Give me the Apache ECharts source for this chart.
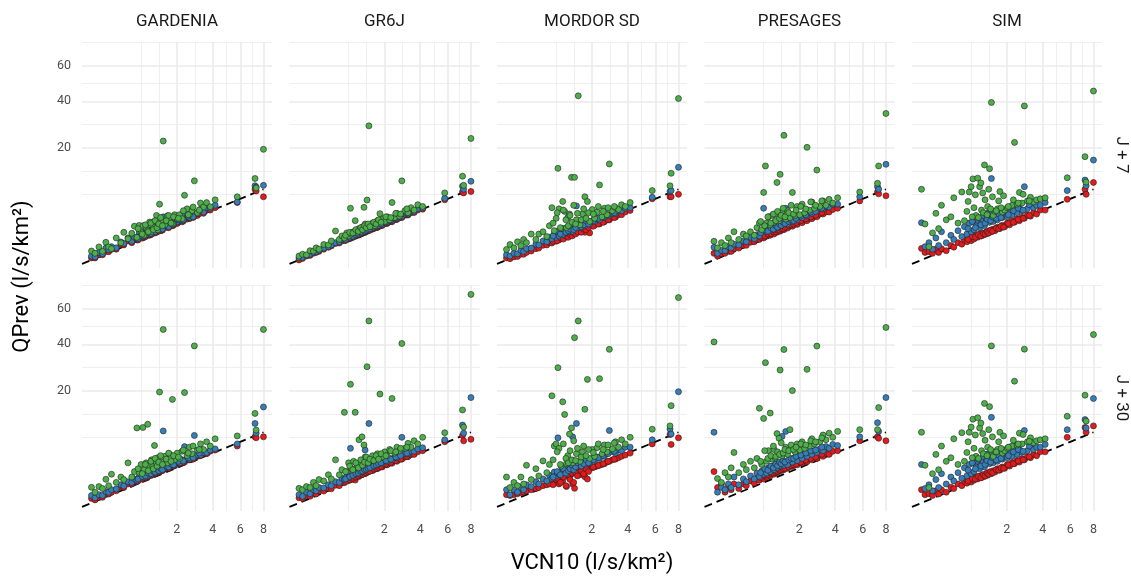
<!DOCTYPE html>
<html>
<head>
<meta charset="utf-8">
<script src="https://cdn.jsdelivr.net/npm/echarts@6/dist/echarts.min.js"></script>
<style>
  html, body { margin: 0; padding: 0; background: #ffffff; }
  #chart { width: 1131px; height: 578px; }
</style>
</head>
<body>
<div id="chart"></div>
<script>
// VCN10 of each station (l/s/km2), same stations in every panel
const vcn10 = [0.0004, 0.006, 0.02, 0.04, 0.065, 0.09, 0.12, 0.18, 0.25, 0.30,
  0.38, 0.46, 0.52, 0.58, 0.64, 0.69, 0.74, 0.77, 0.83, 0.88,
  0.94, 1.0, 1.04, 1.10, 1.17, 1.21, 1.28, 1.35, 1.42, 1.49,
  1.59, 1.69, 1.80, 1.90, 2.02, 2.13, 2.25, 2.37, 2.50, 2.62,
  2.76, 2.89, 3.06, 3.24, 3.42, 3.61, 3.84, 4.16, 5.76, 7.24,
  7.34, 8.0,
  0.61, 0.72, 0.81, 0.90, 0.98, 1.06, 1.12, 1.19, 1.25, 1.32,
  1.39, 1.54, 1.64, 1.74, 1.85, 2.07, 2.31, 2.56, 2.82, 3.17];

const models = ['GARDENIA', 'GR6J', 'MORDOR SD', 'PRESAGES', 'SIM'];
const horizons = ['J + 7', 'J + 30'];
const xBreaks = [2, 4, 6, 8];
const yBreaks = [20, 40, 60];

// QPrev, horizon J+7
const gardenia7Green = [0.14, 0.08, 0.29, 0.13, 0.52, 0.29, 0.22, 0.80, 0.49, 1.25,
  0.74, 1.16, 1.85, 0.84, 1.94, 1.25, 1.90, 1.00, 1.71, 1.39,
  2.33, 1.33, 1.88, 2.4, 3.2, 1.48, 5.0, 2.43, 22.5, 2.0,
  3.15, 2.36, 2.12, 3.3, 2.74, 3.3, 2.75, 6.7, 4.2, 3.3,
  3.9, 10.0, 3.6, 5.2, 4.5, 5.28, 4.55, 5.8, 6.4, 10.6,
  8.3, 19.5,
  1.6, 1.1, 2.0, 1.3, 2.2, 1.5, 2.5, 1.7, 2.1, 2.9,
  1.9, 2.5, 3.2, 2.2, 3.0, 2.8, 3.9, 3.3, 4.5, 4.0];
const gardenia7Blue = [0.03, 0.02, 0.1, 0.07, 0.24, 0.18, 0.3, 0.25, 0.54, 0.45,
  0.8, 0.58, 0.84, 0.77, 1.25, 0.97, 0.88, 1.25, 1.06, 1.48,
  1.1, 1.44, 1.3, 1.66, 1.35, 1.9, 1.66, 1.53, 3.0, 2.12,
  1.9, 2.23, 2.0, 2.61, 2.36, 2.75, 2.5, 3.3, 3.0, 2.9,
  3.59, 3.45, 3.48, 4.14, 3.7, 4.4, 4.31, 4.8, 5.4, 8.8,
  8.5, 8.9,
  0.75, 0.95, 1.0, 1.25, 1.15, 1.45, 1.3, 1.6, 1.45, 1.7,
  1.55, 1.95, 1.8, 2.2, 2.1, 2.6, 2.6, 3.1, 3.0, 3.8];
const gardenia7Red = [0.01, 0.01, 0.05, 0.05, 0.15, 0.12, 0.2, 0.2, 0.4, 0.38,
  0.6, 0.5, 0.7, 0.66, 1.0, 0.8, 0.8, 1.05, 0.95, 1.2,
  1.0, 1.25, 1.15, 1.4, 1.25, 1.6, 1.45, 1.42, 1.8, 1.85,
  1.75, 2.0, 1.9, 2.3, 2.15, 2.45, 2.35, 2.9, 2.7, 2.75,
  3.2, 3.1, 3.2, 3.7, 3.5, 4.0, 4.0, 4.4, 5.3, 8.0,
  7.6, 6.4,
  0.66, 0.8, 0.88, 1.05, 1.05, 1.25, 1.2, 1.4, 1.35, 1.5,
  1.45, 1.75, 1.7, 2.0, 1.95, 2.35, 2.45, 2.85, 2.9, 3.45];

const gr6j7Green = [0.03, 0.06, 0.05, 0.15, 0.14, 0.25, 0.2, 0.4, 0.38, 0.6,
  1.37, 0.7, 0.95, 0.8, 1.2, 0.95, 4.3, 1.1, 1.3, 2.5,
  1.25, 1.6, 1.3, 1.75, 4.45, 2.1, 5.76, 28.6, 1.8, 2.2,
  1.9, 2.5, 3.46, 2.7, 2.4, 3.0, 2.6, 5.3, 2.9, 3.5,
  3.1, 10.0, 3.9, 3.6, 4.4, 4.0, 4.9, 4.6, 7.2, 11.2,
  8.9, 23.5,
  1.0, 1.25, 1.2, 1.5, 1.35, 1.7, 1.5, 1.9, 1.7, 2.1,
  1.8, 2.3, 2.1, 2.6, 2.3, 3.0, 2.9, 3.5, 3.4, 4.2];
const gr6j7Blue = [0.01, 0.015, 0.04, 0.06, 0.1, 0.12, 0.16, 0.24, 0.3, 0.38,
  0.5, 0.55, 0.68, 0.7, 0.82, 0.8, 0.95, 0.88, 1.02, 1.0,
  1.12, 1.1, 1.22, 1.25, 1.38, 1.35, 1.5, 1.55, 1.68, 1.65,
  1.85, 1.85, 2.05, 2.05, 2.3, 2.3, 2.5, 2.5, 2.8, 2.8,
  3.05, 3.05, 3.4, 3.4, 3.75, 3.8, 4.2, 4.35, 6.1, 8.7,
  8.0, 9.9,
  0.7, 0.85, 0.92, 1.05, 1.1, 1.2, 1.28, 1.35, 1.42, 1.5,
  1.58, 1.75, 1.85, 1.95, 2.1, 2.35, 2.6, 2.9, 3.2, 3.55];
const gr6j7Red = [0.0004, 0.006, 0.03, 0.04, 0.08, 0.1, 0.13, 0.2, 0.27, 0.33,
  0.45, 0.48, 0.6, 0.63, 0.75, 0.72, 0.86, 0.8, 0.94, 0.92,
  1.03, 1.02, 1.12, 1.15, 1.28, 1.25, 1.4, 1.45, 1.56, 1.55,
  1.74, 1.72, 1.92, 1.93, 2.16, 2.16, 2.36, 2.36, 2.65, 2.65,
  2.9, 2.9, 3.22, 3.25, 3.58, 3.62, 4.0, 4.15, 5.8, 7.4,
  7.2, 7.5,
  0.63, 0.76, 0.85, 0.95, 1.02, 1.1, 1.17, 1.25, 1.3, 1.38,
  1.45, 1.6, 1.7, 1.8, 1.92, 2.15, 2.4, 2.65, 2.95, 3.3];

const mordor7Green = [0.19, 0.4, 0.25, 0.55, 0.35, 0.7, 0.5, 1.1, 0.7, 1.1,
  1.3, 0.9, 1.9, 4.4, 1.4, 2.8, 13.4, 4.2, 1.6, 5.5,
  3.8, 1.7, 2.9, 3.4, 10.9, 2.2, 10.9, 2.6, 42.8, 2.0,
  3.4, 6.4, 5.5, 2.4, 4.1, 2.8, 3.7, 9.0, 3.0, 4.3,
  3.3, 14.7, 3.9, 4.4, 4.1, 4.9, 4.6, 5.3, 7.7, 8.8,
  12.0, 41.4,
  2.2, 3.6, 1.7, 4.0, 2.6, 1.9, 3.2, 2.3, 4.8, 2.1,
  3.5, 2.6, 4.2, 2.8, 3.6, 3.4, 4.6, 3.8, 4.4, 4.6];
const mordor7Blue = [0.05, 0.03, 0.08, 0.07, 0.16, 0.13, 0.22, 0.24, 0.42, 0.38,
  0.6, 0.55, 0.85, 0.75, 1.1, 0.85, 1.25, 0.95, 1.3, 1.05,
  1.4, 1.25, 1.45, 1.3, 1.7, 1.35, 1.9, 4.7, 1.75, 1.7,
  2.2, 1.9, 2.4, 2.1, 2.5, 2.4, 2.75, 2.6, 3.0, 2.9,
  3.3, 3.2, 3.5, 3.5, 3.9, 3.9, 4.3, 4.4, 6.3, 7.5,
  7.7, 13.7,
  0.95, 1.35, 1.1, 1.6, 1.25, 1.4, 1.55, 1.9, 1.5, 1.7,
  2.2, 1.8, 2.0, 2.5, 2.1, 2.5, 2.8, 3.0, 3.3, 3.6];
const mordor7Red = [0.01, 0.005, 0.02, 0.025, 0.06, 0.06, 0.1, 0.14, 0.22, 0.24,
  0.36, 0.38, 0.5, 0.48, 0.65, 0.58, 0.75, 0.66, 0.82, 0.78,
  0.92, 0.86, 1.0, 0.96, 1.15, 1.05, 1.25, 1.2, 1.35, 1.3,
  1.5, 1.25, 1.65, 1.2, 1.9, 1.95, 2.15, 2.1, 2.4, 2.35,
  2.65, 2.6, 2.95, 2.95, 3.3, 3.3, 3.7, 3.95, 6.0, 6.4,
  6.4, 6.9,
  0.58, 0.62, 0.8, 0.72, 0.95, 0.85, 1.05, 0.95, 1.2, 1.1,
  1.3, 1.25, 1.55, 1.5, 1.7, 1.85, 2.1, 2.3, 2.6, 2.9];

const presages7Green = [0.58, 0.25, 0.5, 0.35, 0.8, 0.5, 1.3, 0.7, 1.1, 0.95,
  1.3, 1.0, 1.7, 2.2, 1.5, 7.3, 14.1, 2.2, 3.0, 2.0,
  3.2, 2.3, 3.4, 9.6, 2.5, 11.7, 3.6, 24.7, 2.7, 3.9,
  2.9, 7.3, 3.2, 4.6, 3.3, 5.0, 3.6, 20.2, 4.0, 5.4,
  4.3, 12.9, 4.6, 5.6, 4.8, 5.9, 5.2, 6.2, 7.4, 9.4,
  14.1, 34.1,
  2.4, 1.9, 3.0, 2.2, 3.4, 2.5, 3.8, 2.8, 3.2, 4.3,
  3.0, 3.6, 4.8, 3.4, 4.0, 4.6, 4.2, 5.4, 4.8, 5.6];
const presages7Blue = [0.27, 0.08, 0.16, 0.15, 0.3, 0.25, 0.42, 0.38, 0.6, 0.55,
  0.85, 0.75, 1.05, 0.95, 1.3, 4.3, 1.5, 1.3, 1.6, 1.45,
  1.75, 1.55, 1.85, 1.7, 2.05, 1.9, 2.15, 2.1, 4.3, 2.1,
  2.6, 2.4, 2.8, 2.6, 3.1, 2.9, 3.4, 3.2, 3.7, 3.5,
  4.0, 3.9, 4.3, 4.2, 4.6, 4.5, 5.0, 5.0, 6.4, 8.6,
  8.0, 14.6,
  1.2, 1.5, 1.35, 1.7, 1.55, 1.9, 1.75, 2.1, 1.95, 2.3,
  2.15, 2.4, 2.6, 2.5, 2.8, 3.1, 3.3, 3.7, 3.8, 4.3];
const presages7Red = [0.08, 0.03, 0.07, 0.08, 0.14, 0.13, 0.22, 0.24, 0.36, 0.36,
  0.52, 0.55, 0.68, 0.7, 0.85, 0.8, 0.95, 0.92, 1.05, 1.0,
  1.18, 1.1, 1.3, 1.25, 1.42, 1.35, 1.55, 1.5, 1.7, 1.65,
  1.9, 1.85, 2.1, 2.05, 2.35, 2.25, 2.6, 2.5, 2.8, 2.75,
  3.1, 3.0, 3.4, 3.4, 3.7, 3.7, 4.1, 4.3, 5.6, 7.4,
  7.0, 6.6,
  0.85, 0.95, 1.1, 1.15, 1.3, 1.3, 1.45, 1.45, 1.6, 1.6,
  1.75, 1.9, 2.0, 2.1, 2.25, 2.5, 2.75, 3.0, 3.25, 3.6];

const sim7Green = [8.0, 2.1, 0.3, 1.2, 3.5, 1.6, 4.8, 2.6, 3.0, 6.2,
  2.2, 7.4, 2.5, 3.8, 7.4, 8.6, 10.5, 4.4, 3.2, 10.7,
  8.6, 4.0, 7.2, 14.4, 3.4, 4.6, 13.3, 39.4, 3.2, 3.8,
  4.2, 7.5, 3.7, 4.0, 4.4, 4.5, 4.8, 22.0, 5.0, 7.3,
  5.2, 37.7, 5.6, 6.3, 5.4, 5.8, 6.0, 6.2, 10.8, 17.0,
  9.7, 45.3,
  5.5, 3.0, 6.8, 2.9, 9.5, 3.6, 5.8, 3.3, 8.0, 4.2,
  6.4, 3.9, 5.6, 4.4, 6.6, 4.6, 5.8, 5.2, 6.9, 5.6];
const sim7Blue = [2.25, 0.3, 0.5, 0.2, 0.8, 0.35, 1.3, 0.5, 1.0, 0.7,
  1.4, 0.9, 1.8, 1.1, 2.2, 1.3, 2.4, 1.5, 1.9, 2.6,
  1.7, 2.2, 2.6, 1.9, 2.7, 3.4, 2.3, 10.6, 2.4, 2.9,
  2.6, 3.2, 2.9, 3.5, 3.0, 3.7, 3.3, 4.2, 3.6, 4.4,
  3.9, 8.6, 4.2, 5.0, 4.4, 4.8, 4.8, 5.3, 7.7, 10.2,
  8.8, 15.9,
  1.6, 2.4, 1.7, 2.9, 2.0, 3.2, 2.2, 2.7, 3.6, 2.5,
  3.0, 2.8, 3.4, 2.9, 3.8, 3.3, 3.9, 4.3, 4.0, 4.9];
const sim7Red = [0.23, 0.1, 0.12, 0.08, 0.2, 0.1, 0.22, 0.15, 0.35, 0.28,
  0.5, 0.42, 0.65, 0.55, 0.8, 0.62, 0.95, 0.72, 1.0, 0.85,
  1.1, 0.95, 1.2, 1.05, 1.3, 1.15, 1.4, 1.3, 1.55, 1.4,
  1.75, 1.6, 1.95, 1.8, 2.2, 2.0, 2.45, 2.3, 2.7, 2.5,
  2.95, 2.8, 3.25, 3.1, 3.6, 3.4, 4.0, 4.0, 5.9, 8.0,
  6.9, 9.6,
  0.7, 0.9, 0.85, 1.05, 0.95, 1.15, 1.1, 1.3, 1.2, 1.45,
  1.35, 1.65, 1.6, 1.85, 1.75, 2.15, 2.3, 2.65, 2.8, 3.2];

// QPrev, horizon J+30
const gardenia30Green = [0.41, 0.2, 0.45, 0.35, 0.92, 0.5, 1.35, 0.7, 1.1, 0.9,
  2.6, 1.1, 1.6, 9.0, 1.5, 2.4, 9.1, 1.8, 2.6, 9.9,
  2.2, 3.0, 2.2, 5.3, 2.6, 3.3, 19.6, 2.7, 47.8, 3.5,
  2.6, 3.8, 17.1, 3.0, 4.0, 3.2, 4.3, 19.4, 3.6, 5.0,
  3.9, 39.2, 4.5, 5.6, 4.6, 6.0, 5.2, 6.6, 7.2, 12.8,
  8.5, 47.8,
  1.9, 1.4, 2.4, 1.7, 2.8, 1.9, 3.2, 2.2, 2.7, 3.6,
  2.4, 3.1, 4.0, 2.8, 3.6, 3.4, 4.5, 4.0, 5.2, 4.6];
const gardenia30Blue = [0.1, 0.05, 0.12, 0.1, 0.22, 0.2, 0.3, 0.33, 0.55, 0.48,
  0.75, 0.7, 0.95, 0.85, 1.15, 1.05, 1.25, 1.1, 1.35, 1.2,
  1.5, 1.35, 1.6, 1.5, 1.8, 1.6, 1.9, 1.8, 8.3, 2.0,
  2.3, 2.15, 2.5, 2.35, 2.7, 2.6, 3.0, 5.1, 3.2, 3.1,
  3.5, 7.3, 3.7, 3.7, 4.1, 4.1, 4.5, 4.7, 5.6, 10.1,
  7.8, 14.7,
  0.95, 1.15, 1.2, 1.45, 1.4, 1.65, 1.55, 1.85, 1.7, 1.95,
  1.8, 2.2, 2.1, 2.45, 2.35, 2.8, 2.85, 3.3, 3.3, 4.0];
const gardenia30Red = [0.04, 0.02, 0.06, 0.06, 0.14, 0.14, 0.2, 0.25, 0.42, 0.4,
  0.6, 0.6, 0.8, 0.75, 1.0, 0.95, 1.1, 1.0, 1.2, 1.1,
  1.35, 1.25, 1.45, 1.4, 1.65, 1.5, 1.75, 1.7, 1.8, 1.9,
  2.1, 2.05, 2.3, 2.25, 2.5, 2.5, 2.8, 2.7, 3.0, 3.0,
  3.3, 3.3, 3.5, 3.6, 3.9, 3.9, 4.3, 4.5, 5.2, 7.0,
  6.8, 7.0,
  0.8, 0.95, 1.05, 1.2, 1.25, 1.4, 1.4, 1.6, 1.55, 1.7,
  1.7, 1.95, 1.95, 2.2, 2.2, 2.55, 2.65, 3.0, 3.1, 3.6];

const gr6j30Green = [0.36, 0.3, 0.45, 0.4, 0.7, 0.5, 0.9, 0.8, 1.3, 0.95,
  3.0, 1.3, 1.8, 13.1, 1.6, 2.6, 22.4, 1.9, 2.8, 13.1,
  2.3, 6.4, 2.5, 7.0, 5.4, 3.4, 29.5, 52.6, 2.9, 3.6,
  3.1, 3.9, 18.9, 3.4, 4.2, 3.6, 4.6, 17.4, 4.0, 5.0,
  4.4, 40.4, 4.8, 5.7, 5.0, 6.2, 5.6, 6.9, 7.9, 13.8,
  9.2, 69.0,
  1.6, 2.2, 1.8, 2.6, 2.0, 3.0, 2.3, 2.7, 3.4, 2.6,
  3.1, 2.9, 3.6, 3.1, 3.9, 3.6, 4.4, 4.2, 4.8, 5.0];
const gr6j30Blue = [0.12, 0.08, 0.2, 0.15, 0.3, 0.25, 0.4, 0.38, 0.55, 0.5,
  0.75, 0.7, 1.0, 0.9, 1.2, 1.05, 4.8, 1.2, 1.5, 1.35,
  1.7, 1.5, 1.8, 1.65, 2.0, 4.5, 2.2, 10.1, 2.3, 2.1,
  2.5, 2.35, 2.7, 2.55, 2.9, 2.8, 3.2, 3.0, 3.4, 3.3,
  3.7, 6.9, 3.9, 3.9, 4.3, 4.3, 4.7, 4.9, 6.4, 9.7,
  7.8, 17.7,
  0.95, 1.15, 1.25, 1.4, 1.45, 1.6, 1.65, 1.8, 1.85, 1.95,
  2.05, 2.25, 2.35, 2.5, 2.6, 2.9, 3.1, 3.4, 3.6, 4.0];
const gr6j30Red = [0.05, 0.04, 0.1, 0.08, 0.16, 0.14, 0.24, 0.24, 0.36, 0.34,
  0.52, 0.5, 0.72, 0.68, 0.9, 0.82, 1.0, 0.9, 1.12, 0.86,
  1.3, 1.15, 1.4, 1.3, 1.55, 1.4, 1.7, 1.6, 1.8, 1.7,
  2.0, 1.9, 2.2, 2.1, 2.4, 2.35, 2.65, 2.55, 2.9, 2.8,
  3.15, 3.1, 3.4, 3.45, 3.8, 3.8, 4.2, 4.4, 6.0, 7.3,
  6.2, 6.5,
  0.75, 0.9, 1.0, 1.1, 1.2, 1.3, 1.35, 1.45, 1.5, 1.6,
  1.65, 1.85, 1.95, 2.05, 2.15, 2.45, 2.65, 2.9, 3.1, 3.5];

const mordor30Green = [1.1, 0.4, 0.7, 0.5, 1.1, 0.6, 2.3, 0.9, 1.9, 1.2,
  2.86, 1.5, 2.4, 18.3, 5.2, 5.6, 29.1, 4.8, 2.2, 16.3,
  12.5, 2.5, 3.6, 7.6, 9.0, 2.6, 43.4, 3.9, 52.6, 2.8,
  4.2, 14.0, 24.3, 3.2, 4.6, 3.5, 4.9, 24.6, 3.9, 5.4,
  4.2, 37.5, 4.7, 6.0, 5.0, 6.4, 5.6, 6.9, 8.7, 9.5,
  15.1, 66.9,
  3.0, 4.2, 2.4, 5.6, 3.2, 2.6, 4.4, 3.0, 6.2, 2.9,
  4.8, 3.4, 5.2, 3.6, 4.6, 4.1, 5.6, 4.6, 5.4, 5.8];
const mordor30Blue = [0.3, 0.12, 0.3, 0.2, 0.4, 0.3, 0.55, 0.45, 0.75, 0.6,
  0.95, 0.8, 1.25, 1.0, 1.55, 1.2, 6.8, 1.35, 1.6, 1.5,
  1.8, 1.55, 2.0, 1.75, 2.2, 7.0, 2.4, 10.1, 2.5, 2.2,
  2.7, 2.4, 2.9, 2.6, 3.2, 2.9, 3.4, 3.2, 3.7, 3.5,
  4.0, 8.4, 4.2, 4.0, 4.6, 4.4, 5.0, 5.0, 6.4, 8.7,
  7.6, 19.7,
  1.1, 1.6, 1.3, 1.9, 1.45, 1.7, 1.9, 2.3, 1.8, 2.1,
  2.6, 2.2, 2.5, 3.0, 2.6, 3.0, 3.3, 3.6, 3.9, 4.3];
const mordor30Red = [0.12, 0.1, 0.12, 0.15, 0.18, 0.2, 0.25, 0.3, 0.35, 0.4,
  0.5, 0.55, 0.6, 1.2, 0.7, 0.9, 1.1, 0.6, 1.0, 0.8,
  1.2, 0.45, 1.3, 1.0, 1.4, 0.6, 0.36, 1.5, 1.6, 1.3,
  1.7, 1.12, 0.94, 1.9, 2.0, 2.1, 2.2, 2.3, 2.4, 2.5,
  2.7, 2.8, 3.0, 3.1, 3.3, 3.5, 3.7, 4.0, 5.6, 7.5,
  5.5, 6.8,
  0.55, 1.0, 0.7, 1.1, 0.5, 1.3, 0.9, 1.45, 0.7, 1.5,
  1.2, 1.7, 1.4, 1.9, 1.6, 2.1, 2.3, 2.5, 2.8, 3.1];

const presages30Green = [41.2, 0.98, 0.7, 1.5, 1.1, 2.0, 4.1, 1.5, 2.4, 1.8,
  2.8, 2.0, 3.2, 14.3, 2.4, 11.4, 31.3, 2.8, 4.4, 12.9,
  3.1, 4.6, 3.3, 7.7, 6.7, 28.1, 3.6, 37.4, 5.0, 3.8,
  8.6, 20.1, 4.2, 5.6, 4.5, 6.0, 4.8, 28.4, 5.2, 6.6,
  5.6, 39.1, 6.0, 7.4, 6.4, 7.8, 6.9, 8.2, 8.6, 8.6,
  14.5, 48.9,
  2.8, 4.4, 3.2, 3.6, 5.2, 3.5, 4.2, 3.8, 5.8, 4.0,
  4.6, 4.4, 5.4, 4.6, 5.0, 5.6, 5.4, 6.2, 6.0, 6.8];
const presages30Blue = [8.0, 0.2, 0.4, 0.3, 0.6, 0.4, 1.1, 0.55, 0.95, 0.75,
  1.2, 0.95, 1.45, 1.15, 1.65, 1.35, 1.85, 1.45, 2.0, 1.6,
  2.2, 1.8, 2.35, 2.0, 2.6, 2.2, 7.1, 2.3, 8.2, 2.4,
  3.1, 2.7, 3.3, 2.9, 3.6, 3.2, 3.9, 3.5, 4.1, 3.8,
  4.4, 4.1, 4.7, 4.4, 5.1, 4.8, 5.5, 5.3, 7.0, 10.3,
  8.2, 17.7,
  1.5, 1.9, 1.75, 2.2, 2.0, 2.45, 2.25, 2.7, 2.5, 2.9,
  2.7, 3.0, 3.2, 3.2, 3.5, 3.7, 4.0, 4.4, 4.5, 5.0];
const presages30Red = [1.6, 0.4, 0.6, 0.2, 0.45, 0.3, 0.6, 0.35, 0.6, 0.5,
  0.8, 0.65, 1.0, 0.85, 1.2, 0.95, 1.35, 1.1, 1.5, 1.2,
  1.6, 1.35, 1.75, 1.5, 1.9, 1.65, 2.05, 1.8, 2.2, 1.95,
  2.4, 2.15, 2.6, 2.35, 2.8, 2.55, 3.0, 2.75, 3.2, 3.0,
  3.45, 3.2, 3.7, 3.5, 4.0, 3.8, 4.3, 4.4, 6.2, 7.0,
  6.7, 6.2,
  1.05, 1.25, 1.3, 1.45, 1.5, 1.6, 1.65, 1.75, 1.8, 1.9,
  1.95, 2.1, 2.25, 2.35, 2.45, 2.7, 2.95, 3.2, 3.4, 3.8];

const sim30Green = [8.0, 2.3, 0.4, 1.4, 3.8, 1.8, 5.2, 2.8, 3.3, 6.6,
  2.4, 7.9, 2.8, 4.1, 8.0, 9.2, 11.2, 4.8, 3.5, 11.6,
  9.0, 4.4, 7.7, 15.8, 3.8, 5.0, 14.8, 39.2, 3.5, 4.2,
  4.6, 8.0, 4.0, 4.4, 4.8, 5.0, 5.2, 23.6, 5.4, 7.8,
  5.6, 37.6, 6.0, 6.8, 5.8, 6.2, 6.4, 6.6, 12.0, 18.5,
  10.7, 45.0,
  6.0, 3.3, 7.4, 3.2, 10.2, 3.9, 6.3, 3.6, 8.6, 4.6,
  7.0, 4.2, 6.0, 4.8, 7.2, 5.0, 6.3, 5.6, 7.5, 6.1];
const sim30Blue = [2.4, 0.35, 0.55, 0.25, 0.9, 0.4, 1.4, 0.6, 1.1, 0.8,
  1.5, 1.0, 2.0, 1.2, 2.4, 1.4, 2.6, 1.6, 2.1, 2.8,
  1.9, 2.4, 2.8, 2.1, 2.9, 3.6, 2.5, 11.7, 2.6, 3.1,
  2.8, 3.4, 3.1, 3.7, 3.3, 3.9, 3.5, 4.4, 3.8, 4.6,
  4.1, 8.4, 4.4, 5.2, 4.6, 5.0, 5.0, 5.5, 8.6, 11.1,
  9.0, 17.4,
  1.75, 2.6, 1.9, 3.1, 2.2, 3.5, 2.4, 2.9, 3.9, 2.7,
  3.3, 3.0, 3.7, 3.2, 4.1, 3.6, 4.2, 4.6, 4.3, 5.2];
const sim30Red = [0.3, 0.12, 0.15, 0.1, 0.25, 0.14, 0.3, 0.2, 0.42, 0.35,
  0.6, 0.5, 0.75, 0.65, 0.9, 0.72, 1.05, 0.85, 1.1, 0.95,
  1.2, 1.05, 1.3, 1.15, 1.42, 1.25, 1.55, 1.4, 1.7, 1.55,
  1.9, 1.75, 2.1, 1.95, 2.4, 2.2, 2.65, 2.5, 2.9, 2.7,
  3.15, 3.0, 3.45, 3.3, 3.8, 3.6, 4.2, 4.2, 6.9, 9.1,
  8.0, 9.5,
  0.8, 1.0, 0.95, 1.15, 1.05, 1.3, 1.2, 1.45, 1.35, 1.6,
  1.5, 1.8, 1.75, 2.0, 1.95, 2.35, 2.5, 2.85, 3.0, 3.45];

// rows = horizons, columns = models ; each cell [red, blue, green]
const panelData = [
  [[gardenia7Red, gardenia7Blue, gardenia7Green], [gr6j7Red, gr6j7Blue, gr6j7Green],
   [mordor7Red, mordor7Blue, mordor7Green], [presages7Red, presages7Blue, presages7Green],
   [sim7Red, sim7Blue, sim7Green]],
  [[gardenia30Red, gardenia30Blue, gardenia30Green], [gr6j30Red, gr6j30Blue, gr6j30Green],
   [mordor30Red, mordor30Blue, mordor30Green], [presages30Red, presages30Blue, presages30Green],
   [sim30Red, sim30Blue, sim30Green]]
];
const pointColors = ['#E41A1C', '#377EB8', '#4DAF4A'];

const FONT = 'Roboto, "DejaVu Sans", sans-serif';
// both axes use a square-root scale: positions are sqrt(value)
const X_MIN = -0.135, X_MAX = 2.968;
const Y_MIN = -0.30, Y_MAX = 8.68;
const PANEL_W = 190, PANEL_H = 226;
const lefts = [82, 289.5, 497, 704.5, 912];
const tops = [42, 285];

// same rule as ggplot minor breaks (midpoints in transformed space)
function minorBreaks(major, lo, hi) {
  const b = major.slice();
  const d = b[1] - b[0];
  if (lo < b[0]) b.unshift(b[0] - d);
  if (hi > b[b.length - 1]) b.push(b[b.length - 1] + d);
  const out = [];
  for (let i = 0; i < b.length - 1; i++) out.push((b[i] + b[i + 1]) / 2);
  b.forEach(v => { if (!major.includes(v)) out.push(v); });
  return out.filter(v => v >= lo && v <= hi);
}

const xMajor = xBreaks.map(Math.sqrt);
const yMajor = yBreaks.map(Math.sqrt);
const xMinor = minorBreaks(xMajor, X_MIN, X_MAX);
const yMinor = minorBreaks(yMajor, Y_MIN, Y_MAX);
const sqLabel = v => String(Math.round(v * v));

const grid = [], xAxis = [], yAxis = [], series = [], graphic = [];
const xTop = Math.sqrt(Math.max.apply(null, vcn10));

for (let r = 0; r < 2; r++) {
  for (let c = 0; c < 5; c++) {
    const g = r * 5 + c;
    grid.push({ left: lefts[c], top: tops[r], width: PANEL_W, height: PANEL_H, outerBoundsMode: 'none', containLabel: false });
    [[xMajor, 1.6, r === 1], [xMinor, 0.8, false]].forEach(([vals, w, lab]) => {
      xAxis.push({
        gridIndex: g, type: 'value', min: X_MIN, max: X_MAX,
        axisLine: { show: false },
        axisTick: { show: false, customValues: vals },
        splitLine: { show: true, lineStyle: { color: '#ebebeb', width: w } },
        axisLabel: { show: lab, customValues: vals, formatter: sqLabel, color: '#4d4d4d', fontSize: 12.5, fontFamily: FONT, margin: 12 }
      });
    });
    [[yMajor, 1.6, c === 0], [yMinor, 0.8, false]].forEach(([vals, w, lab]) => {
      yAxis.push({
        gridIndex: g, type: 'value', min: Y_MIN, max: Y_MAX,
        axisLine: { show: false },
        axisTick: { show: false, customValues: vals },
        splitLine: { show: true, lineStyle: { color: '#ebebeb', width: w } },
        axisLabel: { show: lab, customValues: vals, formatter: sqLabel, color: '#4d4d4d', fontSize: 12.5, fontFamily: FONT, margin: 11 }
      });
    });
    // 1:1 line
    series.push({
      type: 'line', xAxisIndex: 2 * g, yAxisIndex: 2 * g, silent: true,
      symbol: 'none', z: 3,
      data: [[X_MIN, X_MIN], [xTop, xTop]],
      lineStyle: { color: '#000', width: 1.8, type: [8, 5] }
    });
    panelData[r][c].forEach((vals, k) => {
      series.push({
        type: 'scatter', xAxisIndex: 2 * g, yAxisIndex: 2 * g, z: 4 + k,
        symbol: 'circle', symbolSize: 6,
        itemStyle: { color: pointColors[k], borderColor: '#222', borderWidth: 0.6, opacity: 1 },
        data: vcn10.map((x, i) => [Math.sqrt(x), Math.sqrt(vals[i])])
      });
    });
  }
}

models.forEach((m, c) => {
  graphic.push({ type: 'text', x: lefts[c] + PANEL_W / 2, y: 22,
    style: { text: m, align: 'center', verticalAlign: 'middle', fontSize: 17, fontFamily: FONT, fill: '#1a1a1a' } });
});
horizons.forEach((h, r) => {
  graphic.push({ type: 'text', x: 1121, y: tops[r] + PANEL_H / 2, rotation: -Math.PI / 2,
    style: { text: h, align: 'center', verticalAlign: 'middle', fontSize: 17, fontFamily: FONT, fill: '#1a1a1a' } });
});
graphic.push({ type: 'text', x: (lefts[0] + lefts[4] + PANEL_W) / 2, y: 563,
  style: { text: 'VCN10 (l/s/km²)', align: 'center', verticalAlign: 'middle', fontSize: 22, fontFamily: FONT, fill: '#000' } });
graphic.push({ type: 'text', x: 22, y: (tops[0] + tops[1] + PANEL_H) / 2, rotation: Math.PI / 2,
  style: { text: 'QPrev (l/s/km²)', align: 'center', verticalAlign: 'middle', fontSize: 22, fontFamily: FONT, fill: '#000' } });

const chart = echarts.init(document.getElementById('chart'), null, { renderer: 'canvas' });
chart.setOption({
  backgroundColor: '#ffffff',
  animation: false,
  grid, xAxis, yAxis, series, graphic
});
</script>
</body>
</html>
